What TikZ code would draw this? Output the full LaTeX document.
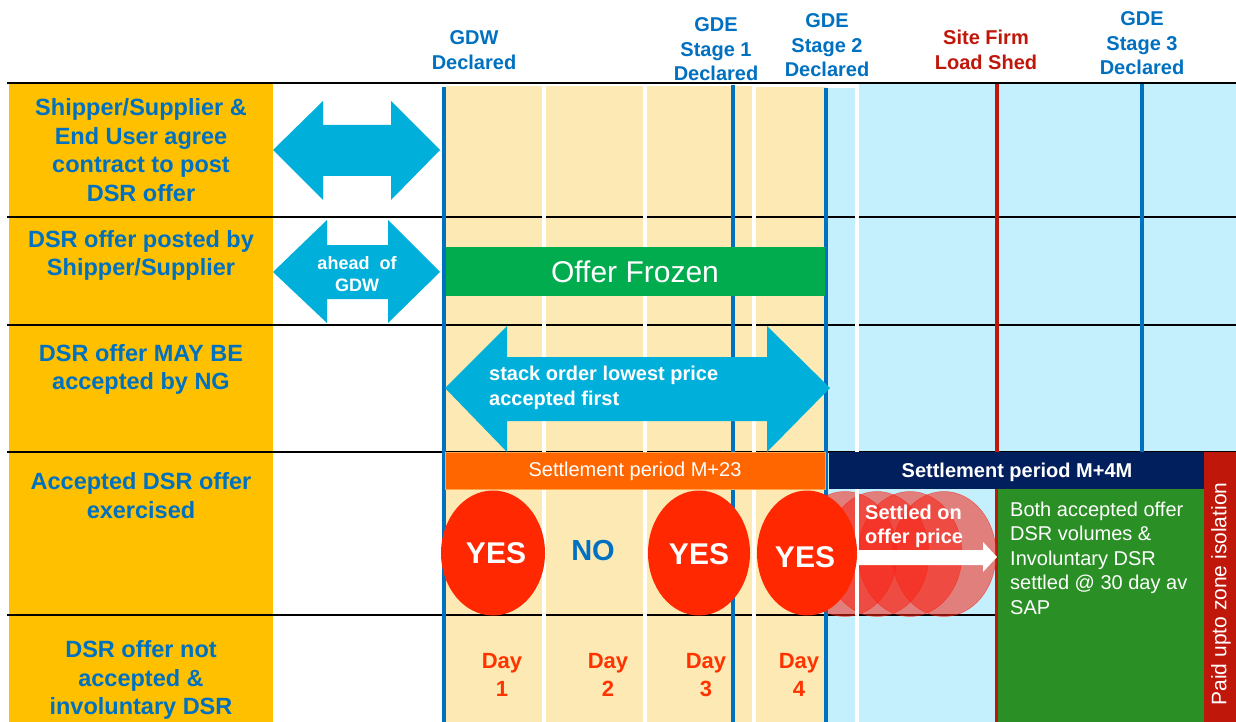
\documentclass[tikz,border=0pt]{standalone}
\usepackage{fontspec}
\setmainfont{Liberation Sans}
\usetikzlibrary{shapes.geometric}
\definecolor{lblorange}{HTML}{FFC000}
\definecolor{txtblue}{HTML}{0070C0}
\definecolor{paleyel}{HTML}{FCE9B3}
\definecolor{paleblue}{HTML}{C4F0FE}
\definecolor{arrcyan}{HTML}{00B0DA}
\definecolor{frozgreen}{HTML}{00AC4E}
\definecolor{setorange}{HTML}{FF6600}
\definecolor{setborder}{HTML}{FFA64D}
\definecolor{navybar}{HTML}{001F5C}
\definecolor{darkred}{HTML}{C0170B}
\definecolor{boxgreen}{HTML}{2A9025}
\definecolor{yesred}{HTML}{FF2800}
\definecolor{dayred}{HTML}{FF3300}
\definecolor{ghostred}{RGB}{250,35,20}
\tikzset{
  lbl/.style={text=txtblue, font=\bfseries\fontsize{23.5}{28.5}\selectfont, align=center, inner sep=0pt},
  hdr/.style={text=txtblue, font=\bfseries\fontsize{20}{24.5}\selectfont, align=center, inner sep=0pt},
  hdrred/.style={hdr, text=darkred},
  daylbl/.style={text=dayred, font=\bfseries\fontsize{22}{28}\selectfont, align=center, inner sep=0pt},
  rowline/.style={black, line width=1.3pt},
  vblue/.style={txtblue, line width=4.5pt},
  gap/.style={fill=white},
  cyanarrow/.style={fill=arrcyan},
  yes/.style={ellipse, fill=yesred, minimum width=104pt, minimum height=125pt, inner sep=0pt},
  ghost/.style={ellipse, fill=ghostred, fill opacity=0.55, draw=ghostred, draw opacity=0.6, line width=0.5pt, minimum width=104pt, minimum height=125pt, inner sep=0pt},
  yestxt/.style={text=white, font=\bfseries\fontsize{30}{30}\selectfont, inner sep=0pt},
  wtxt/.style={text=white, font=\fontsize{20}{24.5}\selectfont, inner sep=0pt},
  wbtxt/.style={text=white, font=\bfseries\fontsize{20}{24.5}\selectfont, inner sep=0pt},
}
\begin{document}
\begin{tikzpicture}[x=1pt,y=-1pt]
\useasboundingbox (0,0) rectangle (1236,722);
\fill[white] (0,0) rectangle (1236,722);
% label column
\fill[lblorange] (9,84) rectangle (273,722);
% day columns
\fill[paleyel] (446,86) rectangle (542,722);
\fill[paleyel] (546,86) rectangle (643,722);
\fill[paleyel] (647,86) rectangle (752,722);
\fill[paleyel] (756,87) rectangle (826,722);
% pale blue
\fill[paleblue] (826,88) rectangle (855,722);
\fill[paleblue] (859,84) rectangle (1236,722);
% row lines
\draw[rowline] (7,83) -- (1236,83);
\draw[rowline] (7,217) -- (1236,217);
\draw[rowline] (7,325) -- (1236,325);
\draw[rowline] (7,452) -- (1236,452);
\draw[rowline] (7,615) -- (1236,615);
% white gaps
\fill[gap] (542,86) rectangle (546,722);
\fill[gap] (643,86) rectangle (647,722);
\fill[gap] (752,86) rectangle (756,722);
\fill[gap] (855,86) rectangle (859,722);
% vertical markers
\draw[vblue] (444,87) -- (444,722);
\draw[vblue, line width=4pt] (733,85) -- (733,722);
\draw[vblue] (826,88) -- (826,722);
\draw[darkred, line width=4pt] (996.5,84) -- (996.5,722);
\draw[vblue, line width=4pt] (1142,84) -- (1142,722);
% header labels
\node[hdr] (gdw) at (474,50) {GDW\\Declared};
\node[hdr] (gde1) at (716,49.5) {GDE\\Stage 1\\Declared};
\node[hdr] (gde2) at (827,45.5) {GDE\\Stage 2\\Declared};
\node[hdrred] (sfls) at (986,50) {Site Firm\\Load Shed};
\node[hdr] (gde3) at (1142,43.5) {GDE\\Stage 3\\Declared};
% row labels
\node[lbl] (r1) at (141,150) {Shipper/Supplier \&\\End User agree\\contract to post\\DSR offer};
\node[lbl] (r2) at (141,255.5) {DSR offer posted by\\Shipper/Supplier};
\node[lbl] (r3) at (141,369.5) {DSR offer MAY BE\\accepted by NG};
\node[lbl] (r4) at (141,495.5) {Accepted DSR offer\\exercised};
\node[lbl] (r5) at (141,680) {DSR offer not\\accepted \&\\involuntary DSR};
% left double arrows
\fill[cyanarrow] (273,150) -- (323,101) -- (323,125) -- (391,125) -- (391,101) -- (440,150) -- (391,200) -- (391,176) -- (323,176) -- (323,200) -- cycle;
\fill[cyanarrow] (273,272) -- (327,220) -- (327,245) -- (388,245) -- (388,220) -- (440,272) -- (388,323) -- (388,299) -- (327,299) -- (327,323) -- cycle;
\node[wbtxt, font=\bfseries\fontsize{18}{22}\selectfont, align=center] (ahead) at (357,274) {ahead~~of\\GDW};
% offer frozen
\fill[frozgreen] (446,247) rectangle (825,296);
\node[wtxt, font=\fontsize{30}{30}\selectfont] (frozen) at (635,271.5) {Offer Frozen};
% stack order arrow
\fill[cyanarrow] (445,388) -- (507,326) -- (507,357) -- (767,357) -- (767,326) -- (830,388) -- (767,452) -- (767,421) -- (507,421) -- (507,452) -- cycle;
\node[wbtxt, anchor=west, align=left] (stack) at (489,388) {stack order lowest price\\accepted first};
% settlement bars
\draw[setborder, fill=setorange, line width=1pt] (445,452.5) rectangle (825,489.5);
\node[wtxt] (m23) at (635,471) {Settlement period M+23};
\fill[navybar] (829,452) rectangle (1204,489);
\node[wbtxt] (m4m) at (1017,472) {Settlement period M+4M};
\fill[darkred] (1204,452) rectangle (1236,722);
\node[wtxt, font=\fontsize{21}{21}\selectfont, rotate=90] (paid) at (1221,594) {Paid upto zone isolation};
% ghost circles
\node[ghost] (g1) at (845,554) {};
\node[ghost] (g2) at (877,554) {};
\node[ghost] (g3) at (910,554) {};
\node[ghost] (g4) at (944,554) {};
\fill[gap] (855,489) rectangle (859,615);
% green box
\fill[boxgreen] (998,489) rectangle (1204,722);
\node[wtxt, anchor=west, align=left] (both) at (1010,558) {Both accepted offer\\DSR volumes \&\\Involuntary DSR\\settled @ 30 day av\\SAP};
% yes ellipses
\node[yes] (y1) at (493,553) {};
\node[yes, minimum width=102pt] (y3) at (699,553) {};
\node[yes, minimum width=100pt] (y4) at (807,553) {};
\node[yestxt] at (496,553) {YES};
\node[text=txtblue, font=\bfseries\fontsize{29}{29}\selectfont, inner sep=0pt] (no) at (593,551) {NO};
\node[yestxt] at (699,554) {YES};
\node[yestxt] at (805,557) {YES};
% settled arrow
\fill[white] (858,550) -- (983,550) -- (983,542) -- (997,557) -- (983,572) -- (983,565) -- (858,565) -- cycle;
\node[wbtxt, anchor=west, align=left] (settled) at (865,526.5) {Settled on\\offer price};
% day labels
\node[daylbl] (d1) at (502,675) {Day\\1};
\node[daylbl] (d2) at (608,675) {Day\\2};
\node[daylbl] (d3) at (706,675) {Day\\3};
\node[daylbl] (d4) at (799,675) {Day\\4};
\end{tikzpicture}
\end{document}
